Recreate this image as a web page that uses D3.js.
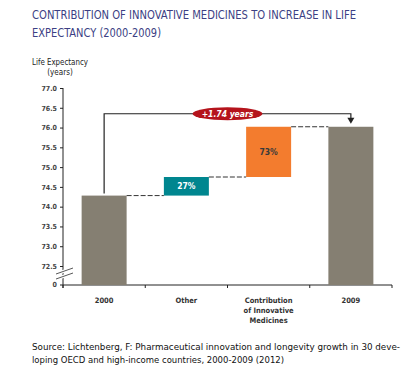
<!DOCTYPE html>
<html>
<head>
<meta charset="utf-8">
<script src="https://cdn.jsdelivr.net/npm/d3@7"></script>
<style>
  body { margin: 0; background: #fff; }
  svg text { font-family: "DejaVu Sans Condensed", "Liberation Sans Narrow", sans-serif; }
</style>
</head>
<body>
<div class="chart-wrapper"></div>
<script>
// data
let categories = ["2000", "Other", "Contribution of Innovative Medicines", "2009"];
let categoryLines = [["2000"], ["Other"], ["Contribution", "of Innovative", "Medicines"], ["2009"]];
let barKinds = ["total", "delta", "delta", "total"];
let barValues = [74.28, 0.47, 1.27, 76.02];
let barLabels = ["", "27%", "73%", ""];
let yTicks = [72.5, 73.0, 73.5, 74.0, 74.5, 75.0, 75.5, 76.0, 76.5, 77.0];
let baseLabel = "0";
let increaseLabel = "+1.74 years";

let W = 419, H = 376;
let left = 63, right = 392;
let topY = 88, bottomTick = 266, baseline = 285;

let colors = {total: "#857f72", Other: "#00868f", Contribution: "#f37c2e"};

let viz = d3.select(".chart-wrapper")
  .append("svg")
  .attr("width", W)
  .attr("height", H);

// title
let title = viz.append("g").attr("fill", "#3c3f84").attr("font-size", 12.5);
title.append("text").attr("x", 32).attr("y", 19)
  .attr("textLength", 324).attr("lengthAdjust", "spacingAndGlyphs")
  .text("CONTRIBUTION OF INNOVATIVE MEDICINES TO INCREASE IN LIFE");
title.append("text").attr("x", 32).attr("y", 37)
  .attr("textLength", 129).attr("lengthAdjust", "spacingAndGlyphs")
  .text("EXPECTANCY (2000-2009)");

// y axis title
let yTitle = viz.append("g").attr("font-size", 8).attr("fill", "#222").attr("text-anchor", "middle");
yTitle.append("text").attr("x", 60).attr("y", 65).attr("textLength", 56).attr("lengthAdjust", "spacingAndGlyphs")
  .text("Life Expectancy");
yTitle.append("text").attr("x", 60).attr("y", 75).text("(years)");

// scales
let xScale = d3.scaleBand().domain(categories).range([left, right])
  .paddingInner(0.453).paddingOuter(0.2265);
let yScale = d3.scaleLinear().domain([72.5, 77]).range([bottomTick, topY]);

// y axis
let yAxis = d3.axisLeft(yScale).tickValues(yTicks).tickFormat(d3.format(".1f")).tickSize(3).tickPadding(3);
let yAxisGroup = viz.append("g").attr("class", "yaxisgroup")
  .attr("transform", "translate(" + left + ",0)");
yAxisGroup.call(yAxis);
yAxisGroup.select(".domain").remove();
yAxisGroup.selectAll("line").attr("stroke", "#222");
yAxisGroup.selectAll("text").attr("font-size", 7).attr("font-weight", "bold").attr("fill", "#444")
  .style("font-family", "'DejaVu Sans Condensed', sans-serif");
yAxisGroup.append("line").attr("x1", 0).attr("x2", 0).attr("y1", topY).attr("y2", baseline + 3)
  .attr("stroke", "#222");
yAxisGroup.append("line").attr("x1", -3).attr("x2", 0).attr("y1", baseline).attr("y2", baseline)
  .attr("stroke", "#222");
yAxisGroup.append("text").attr("x", -6).attr("y", baseline).attr("dy", "0.32em")
  .attr("text-anchor", "end").attr("font-size", 7).attr("font-weight", "bold").attr("fill", "#444")
  .text(baseLabel);

// axis break
let breakGroup = viz.append("g").attr("class", "breakgroup");
[0, 5].forEach(function(off){
  breakGroup.append("line")
    .attr("x1", left - 7).attr("y1", 274 + off)
    .attr("x2", left + 10).attr("y2", 268 + off)
    .attr("stroke", "#fff").attr("stroke-width", 3);
});
[0, 5].forEach(function(off){
  breakGroup.append("line")
    .attr("x1", left - 7).attr("y1", 274 + off)
    .attr("x2", left + 10).attr("y2", 268 + off)
    .attr("stroke", "#444").attr("stroke-width", 0.9);
});

// x axis
let xAxisGroup = viz.append("g").attr("class", "xaxisgroup");
xAxisGroup.append("line").attr("x1", left).attr("x2", right).attr("y1", baseline).attr("y2", baseline)
  .attr("stroke", "#222");
let step = xScale.step();
d3.range(categories.length + 1).forEach(function(i){
  let x = left + i * step;
  xAxisGroup.append("line").attr("x1", x).attr("x2", x).attr("y1", baseline).attr("y2", baseline + 3)
    .attr("stroke", "#222");
});
categories.forEach(function(c, i){
  let cx = xScale(c) + xScale.bandwidth() / 2;
  let t = xAxisGroup.append("text").attr("x", cx).attr("y", 303)
    .attr("text-anchor", "middle").attr("font-size", 7.5).attr("font-weight", "bold").attr("fill", "#333");
  categoryLines[i].forEach(function(line, j){
    t.append("tspan").attr("x", cx).attr("y", 303 + j * 10).text(line);
  });
});

// waterfall data
let running = 0;
let bars = categories.map(function(c, i){
  let d = {cat: c, kind: barKinds[i], label: barLabels[i]};
  if (d.kind == "total") {
    d.y0 = null; d.y1 = barValues[i]; running = barValues[i];
  } else {
    d.y0 = running; d.y1 = running + barValues[i]; running = d.y1;
  }
  return d;
});

let barGroup = viz.append("g").attr("class", "bargroup");
barGroup.selectAll("rect").data(bars).enter().append("rect")
  .attr("x", d => xScale(d.cat))
  .attr("width", xScale.bandwidth())
  .attr("y", d => yScale(d.y1))
  .attr("height", d => (d.kind == "total" ? baseline : yScale(d.y0)) - yScale(d.y1))
  .attr("fill", function(d){
    if (d.kind == "total") { return colors.total; }
    return d.cat == "Other" ? colors.Other : colors.Contribution;
  });

barGroup.selectAll(".barlabel").data(bars.filter(d => d.label != "")).enter().append("text")
  .attr("class", "barlabel")
  .attr("x", d => xScale(d.cat) + xScale.bandwidth() / 2)
  .attr("y", d => (yScale(d.y0) + yScale(d.y1)) / 2)
  .attr("dy", "0.35em")
  .attr("text-anchor", "middle")
  .attr("font-size", 8.5).attr("font-weight", "bold")
  .attr("fill", d => d.cat == "Other" ? "#fff" : "#3a3a3a")
  .text(d => d.label);

// dashed connectors
let connGroup = viz.append("g").attr("class", "conngroup");
for (let i = 0; i < bars.length - 1; i++) {
  let level = bars[i].y1;
  connGroup.append("line")
    .attr("x1", xScale(bars[i].cat) + xScale.bandwidth())
    .attr("x2", xScale(bars[i + 1].cat))
    .attr("y1", yScale(level)).attr("y2", yScale(level))
    .attr("stroke", "#333").attr("stroke-width", 1)
    .attr("stroke-dasharray", "5,2");
}

// bracket with arrow
let first = bars[0], last = bars[bars.length - 1];
let x0 = xScale(first.cat) + xScale.bandwidth() / 2;
let x1 = xScale(last.cat) + xScale.bandwidth() / 2;
let bracketY = yScale(last.y1) - 13;
viz.append("path")
  .attr("d", "M" + x0 + "," + (yScale(first.y1) - 2) + "V" + bracketY + "H" + x1 + "V" + (yScale(last.y1) - 8))
  .attr("fill", "none").attr("stroke", "#222").attr("stroke-width", 1.2);
viz.append("path")
  .attr("d", "M" + (x1 - 3.5) + "," + (yScale(last.y1) - 9) + "L" + (x1 + 3.5) + "," + (yScale(last.y1) - 9) + "L" + x1 + "," + (yScale(last.y1) - 3) + "Z")
  .attr("fill", "#222");

let mid = (x0 + x1) / 2;
viz.append("ellipse").attr("cx", mid).attr("cy", bracketY).attr("rx", 35).attr("ry", 6.5)
  .attr("fill", "#b5141c");
viz.append("text").attr("x", mid).attr("y", bracketY).attr("dy", "0.35em")
  .attr("text-anchor", "middle").attr("font-size", 8.5).attr("font-weight", "bold")
  .attr("font-style", "italic").attr("fill", "#fff")
  .text(increaseLabel);

// source
let src = viz.append("g").attr("font-size", 9.5).attr("fill", "#111");
src.append("text").attr("x", 32).attr("y", 350)
  .attr("textLength", 368).attr("lengthAdjust", "spacingAndGlyphs")
  .text("Source: Lichtenberg, F: Pharmaceutical innovation and longevity growth in 30 deve-");
src.append("text").attr("x", 32).attr("y", 363)
  .attr("textLength", 252).attr("lengthAdjust", "spacingAndGlyphs")
  .text("loping OECD and high-income countries, 2000-2009 (2012)");
</script>
</body>
</html>
